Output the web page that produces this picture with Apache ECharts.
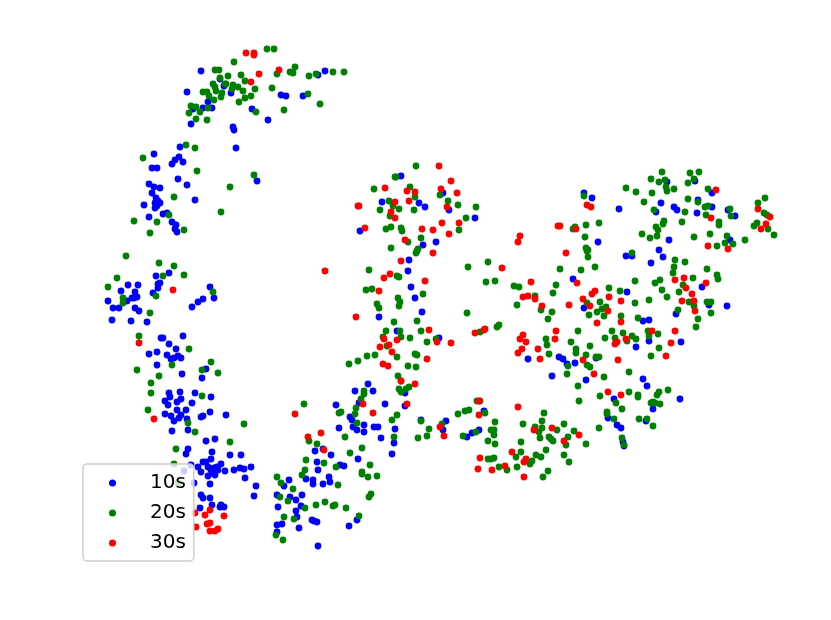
<!DOCTYPE html>
<html><head><meta charset="utf-8">
<script src="https://cdn.jsdelivr.net/npm/echarts@6/dist/echarts.min.js"></script>
<style>html,body{margin:0;padding:0;background:#fff}#c{width:831px;height:620px}</style>
</head><body><div id="c"></div>
<script>
const seriesNames = ['10s','20s','30s'];
const blue10s = [
[201,71],[220,79],[224,86],[187,92],[231,93],[208,102],[203,108],[212,108],[193,109],[191,124],[252,109],[268,120],[233,127],[234,130],[236,148],[281,95],[286,96],[303,96],[318,75],[325,71],
[180,147],[154,154],[179,157],[175,160],[183,162],[172,164],[152,168],[157,168],[178,179],[149,184],[154,187],[160,188],[187,185],[152,193],[156,198],[158,201],[160,203],[155,203],[157,206],[155,208],[144,205],[195,200],[163,214],[167,213],[149,217],[172,222],[176,225],[175,229],[177,232],[257,181],
[156,276],[169,273],[160,283],[158,284],[158,288],[153,293],[128,285],[138,285],[121,291],[135,292],[137,297],[134,298],[132,298],[127,301],[108,301],[113,308],[119,308],[135,308],[139,311],[112,320],[131,321],[147,322],
[210,287],[214,298],[203,299],[198,302],[192,307],
[161,338],[163,338],[183,336],[169,344],[176,349],[157,352],[149,354],[167,355],[171,359],[174,358],[178,356],[181,358],[157,365],[206,369],[182,374],[202,378],
[169,393],[180,392],[195,393],[211,397],[170,397],[181,399],[177,402],[165,401],[168,405],[192,403],[186,410],[177,410],[165,414],[171,416],[181,415],[179,418],[174,421],[187,419],[201,417],[203,416],[210,412],[226,415],[172,431],[188,430],
[206,441],[215,439],[188,449],[186,454],[212,452],[230,455],[241,455],
[211,459],[203,462],[206,462],[198,467],[201,472],[208,467],[211,470],[214,468],[217,467],[221,464],[213,473],[218,470],[208,476],[215,475],[225,471],[234,470],[240,468],[244,469],[251,467],[245,478],[256,486],[254,496],
[191,465],[184,471],[194,483],[210,484],[201,495],[203,498],[210,498],[212,505],[200,508],[221,505],[220,507],[224,507],
[368,384],[355,391],[373,391],[336,405],[385,404],[405,406],[405,393],[359,403],[350,417],[352,420],[339,428],[353,427],[357,430],[364,425],[364,432],[374,427],[378,427],[381,438],[395,429],[394,443],[392,454],[421,420],[446,421],[443,430],
[315,451],[323,449],[331,455],[358,459],[317,462],[340,465],[344,466],[318,470],[329,477],[330,482],[306,479],[313,480],[313,484],[323,484],[289,480],[284,486],[277,495],[290,497],[302,495],[296,500],[278,507],[301,506],[296,511],[297,517],[312,520],[314,521],[317,522],[282,524],[277,525],[277,532],[299,528],[349,526],[357,520],[318,546],
[401,176],[382,202],[443,193],[419,203],[425,207],[449,210],[475,218],[360,231],[436,242],[423,245],[409,260],[408,271],
[411,287],[415,298],[379,317],[422,312],[397,331],[439,338],
[484,411],[479,430],[472,433],[467,437],[614,399],[608,418],[617,425],[621,428],[623,442],[624,446],[653,409],[646,421],[680,399],
[573,279],[584,308],[528,359],[559,357],[563,359],[567,364],[575,363],[596,358],[552,376],[586,380],
[626,256],[632,256],[659,250],[663,257],[651,263],[702,287],[627,292],[709,305],[727,306],[676,314],[643,321],[649,320],[649,341],[681,342],[636,347],[643,379],[647,386],
[584,193],[592,198],[619,209],[598,242],[667,182],[695,181],[712,193],[661,203],[656,212],[674,207],[677,210],[698,200],[697,213],[712,207],[728,210],[735,216],[669,240],[730,240]
];
const green20s = [
[234,62],[267,49],[274,49],[295,67],[215,70],[219,70],[220,78],[228,76],[241,75],[245,81],[213,84],[215,87],[216,91],[225,84],[226,84],[233,85],[238,87],[243,91],[232,89],[255,89],[203,92],[207,92],[209,96],[214,100],[222,93],[221,97],[245,98],[251,96],[239,102],[272,88],[277,74],[290,72],[293,73],[309,76],[316,74],[333,72],[344,72],[308,94],[320,104],[284,110],[256,112],[191,106],[196,107],[208,108],[200,112],[189,113],[196,119],[207,120],
[186,145],[195,148],[143,158],[197,171],[254,175],[230,187],[174,197],[221,212],[169,215],[134,221],[157,222],[150,233],[184,230],
[126,256],[159,263],[174,266],[163,276],[184,275],[117,278],[108,287],
[123,298],[123,303],[156,296],[213,292],[150,313],
[139,336],[189,349],[137,370],[172,365],[211,362],[202,370],[218,373],[159,376],[151,383],[151,393],[202,396],[148,410],[188,423],[195,432],[244,424],[230,442],[176,449],[174,464],[178,483],
[399,389],[401,392],[406,389],[409,387],[364,391],[364,394],[361,399],[356,408],[341,412],[339,413],[355,414],[357,423],[304,404],[397,415],[392,420],[421,421],[429,429],[442,424],[458,414],[345,437],[394,437],[418,438],[427,436],[309,441],[317,444],[350,453],[362,448],[306,460],[324,463],[370,465],[336,467],[305,470],[302,475],[362,472],[362,474],[368,477],[377,476],[277,477],[281,483],[338,485],[293,489],[371,494],[369,497],[280,497],[288,501],[305,508],[316,505],[325,502],[333,506],[335,505],[346,508],[359,516],[284,517],[294,519],[276,535],[283,540],
[416,166],[395,177],[396,177],[374,189],[410,187],[415,197],[440,195],[389,201],[448,201],[458,205],[393,206],[399,209],[380,210],[414,210],[476,207],[390,216],[466,218],[459,230],[386,229],[391,227],[401,228],[402,231],[421,238],[408,242],[391,248],[418,249],[417,251],[416,253],[369,270],[468,267],[488,262],[397,276],[399,277],
[486,282],[495,281],[366,290],[372,289],[423,294],[398,298],[400,302],[399,306],[377,304],[379,308],[467,313],[394,322],[417,321],[386,331],[400,331],[421,331],[383,337],[401,337],[410,338],[436,339],[427,342],[480,332],[497,327],[499,325],[387,346],[367,356],[375,355],[397,357],[415,354],[417,355],[349,364],[358,361],[408,366],[416,367],[398,376],[401,381],
[477,401],[480,401],[465,411],[469,410],[485,413],[495,422],[491,430],[494,430],[494,435],[476,432],[463,436],[488,441],[495,444],[488,459],[491,459],[494,458],[499,467],[507,470],[517,467],[516,457],[521,452],[521,442],[523,424],[544,413],[542,421],[535,427],[542,428],[539,432],[540,438],[564,424],[557,430],[549,437],[551,439],[553,441],[574,431],[568,437],[566,445],[586,444],[546,450],[536,455],[541,457],[532,461],[530,464],[564,455],[569,462],[548,471],[543,477],[579,401],[600,396],[616,403],[622,409],[629,392],[638,395],[638,397],[607,412],[607,414],[614,419],[599,428],[622,438],[624,445],[639,419],[647,419],[653,426],[651,403],[653,402],[657,395],[659,392],[655,403],[660,404],[668,390],
[514,286],[519,287],[560,269],[581,270],[595,267],[588,257],[587,251],[556,285],[553,293],[535,296],[517,305],[541,310],[552,312],[548,319],[578,331],[546,339],[547,345],[549,354],[571,342],[576,349],[576,353],[590,346],[586,355],[568,366],[587,365],[590,367],[567,374],[578,386],[604,377],[596,357],[599,357],[612,331],[605,338],[615,338],[609,288],[620,291],[600,302],[606,307],[602,309],[597,312],[589,315],[604,316],[587,303],[621,316],
[632,253],[675,260],[685,262],[674,267],[673,273],[707,269],[717,275],[718,279],[693,278],[635,281],[655,283],[660,280],[683,285],[662,290],[679,292],[667,297],[649,300],[635,303],[689,302],[694,306],[707,302],[711,302],[711,313],[678,310],[698,319],[696,327],[638,318],[623,333],[648,331],[649,336],[658,334],[632,336],[636,339],[627,341],[659,348],[651,356],[629,372],
[662,172],[651,179],[659,182],[665,180],[690,173],[699,172],[688,183],[694,179],[666,187],[667,191],[674,189],[626,188],[636,192],[652,193],[644,202],[584,196],[654,210],[685,212],[688,199],[698,202],[708,189],[705,207],[708,206],[706,215],[682,222],[664,221],[663,224],[656,227],[658,230],[657,236],[650,238],[642,234],[694,237],[710,234],[719,222],[719,225],[730,209],[731,216],[758,203],[765,198],[764,213],[767,215],[757,223],[754,226],[768,229],[774,235],[727,236],[725,243],[733,244],[717,246],[745,240],[599,223],[586,225],[575,227],[573,229],[585,237],[586,248],[588,250]
];
const red30s = [
[246,53],[254,53],[254,55],[279,70],[259,74],[251,82],[325,271],[173,290],[358,206],
[139,343],[154,419],[210,510],[195,513],[205,515],[224,516],[210,523],[207,524],[196,527],[210,531],[215,531],[218,529],
[401,381],[415,384],[363,404],[407,404],[295,414],[373,413],[321,433],[308,437],[324,450],[440,427],[444,436],
[439,166],[451,181],[385,188],[441,189],[407,191],[415,192],[457,193],[409,201],[395,202],[359,206],[447,207],[391,212],[395,218],[442,223],[459,223],[365,228],[422,229],[433,230],[449,234],[405,240],[433,253],[401,261],[390,274],[384,278],
[425,281],[379,291],[356,317],[429,330],[384,339],[397,340],[437,342],[451,343],[475,333],[485,329],[484,330],[389,345],[380,347],[392,352],[427,359],[383,364],[388,366],
[479,401],[518,407],[479,415],[552,428],[534,430],[579,435],[564,441],[512,452],[480,458],[478,469],[492,470],[505,466],[526,459],[524,462],[524,477],[608,392],[621,395],
[566,253],[502,268],[531,282],[577,283],[595,291],[592,294],[583,299],[523,297],[528,296],[535,299],[542,306],[569,305],[609,297],[590,306],[608,311],[597,323],[621,301],[621,322],[556,331],[523,335],[520,339],[526,342],[555,339],[538,349],[522,349],[518,353],[540,359],[583,360],[618,360],[594,374],[617,342],[615,344],
[728,249],[675,280],[684,278],[686,288],[706,283],[692,294],[682,301],[694,301],[695,311],[652,331],[675,331],[671,343],[626,339],[666,356],
[716,190],[587,205],[591,207],[711,218],[758,209],[770,217],[766,224],[761,229],[576,229],[560,226],[708,246],
[520,236],[518,242],[558,226]
];
const seriesData = [blue10s, green20s, red30s];
const seriesColors = ['#0000ff','#008000','#ff0000'];

const chart = echarts.init(document.getElementById('c'), null, {renderer:'canvas'});
chart.setOption({
  animation:false,
  backgroundColor:'#ffffff',
  grid:{left:0,right:0,top:0,bottom:0,containLabel:false},
  xAxis:{type:'value',min:0,max:831,show:false},
  yAxis:{type:'value',min:0,max:620,inverse:true,show:false},
  legend:{
    show:true,left:83,top:464,orient:'vertical',align:'left',
    data:seriesNames.map(n=>({name:n,icon:'circle'})),
    backgroundColor:'rgba(255,255,255,0.8)',
    borderColor:'#cccccc',borderWidth:1.4,borderRadius:4,
    padding:[9,8,8,26],
    itemWidth:29,itemHeight:7,itemGap:10,
    textStyle:{fontFamily:'DejaVu Sans',fontSize:20,color:'#000',padding:[0,0,0,18]},
    selectedMode:false
  },
  series:seriesNames.map((n,i)=>({
    name:n,type:'scatter',data:seriesData[i],symbol:'circle',symbolSize:6.8,
    itemStyle:{color:seriesColors[i],opacity:1},
    silent:true,large:false,progressive:0,z:2
  }))
});
</script></body></html>
